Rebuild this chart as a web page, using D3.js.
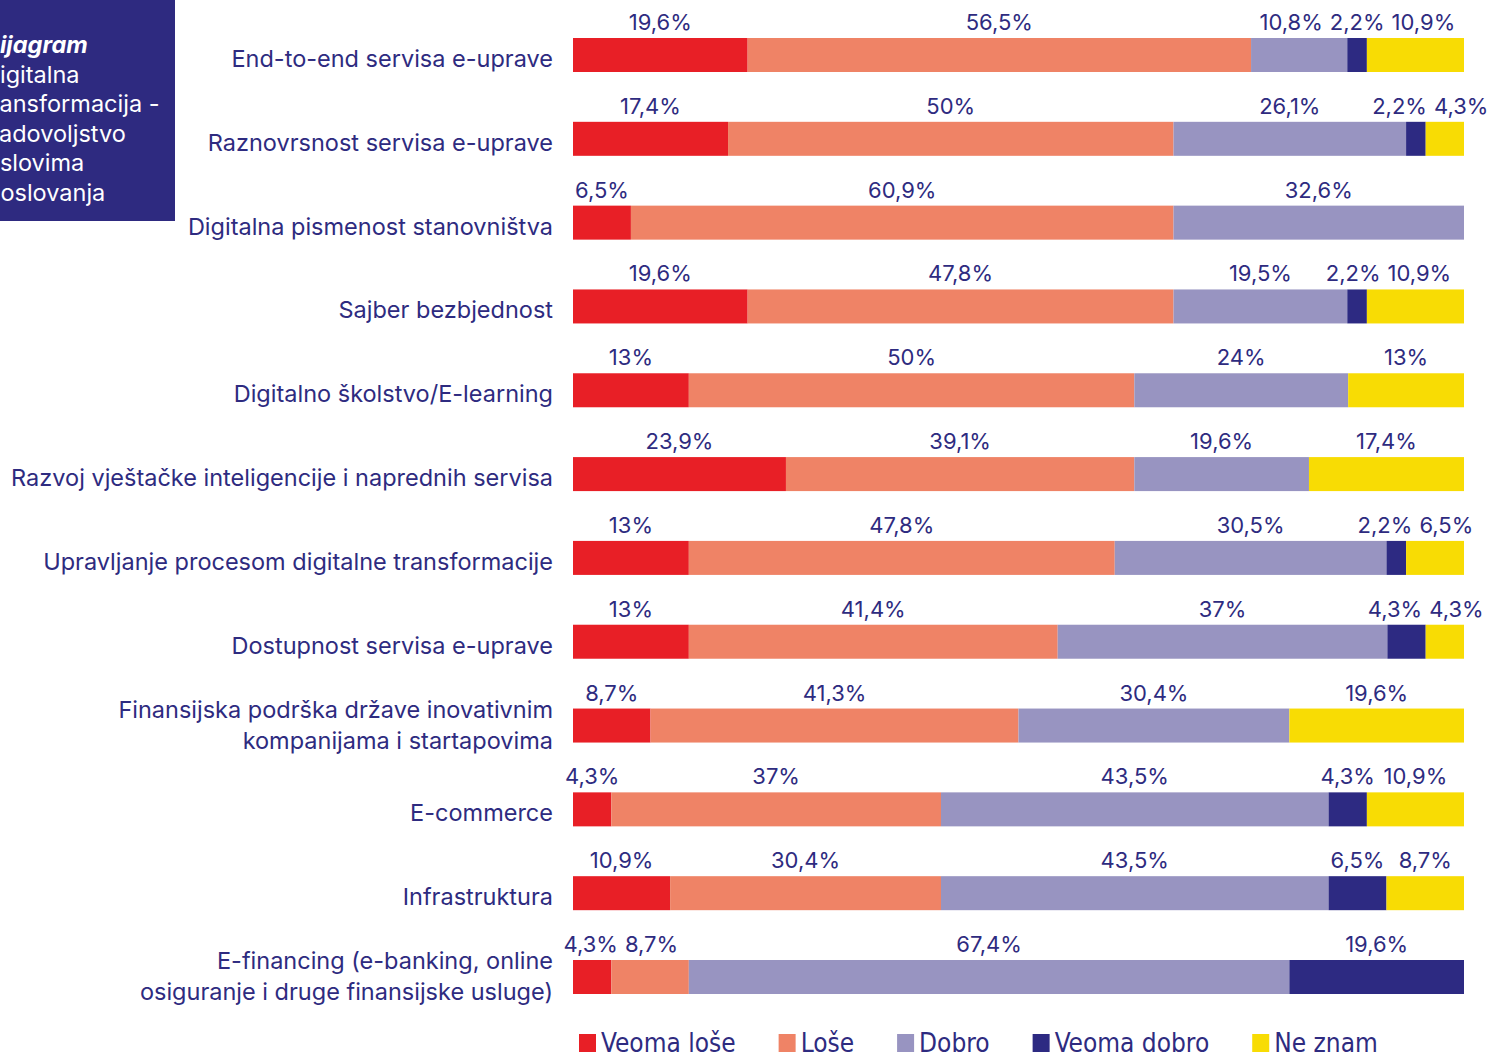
<!DOCTYPE html>
<html>
<head>
<meta charset="utf-8">
<script src="https://cdn.jsdelivr.net/npm/d3@7"></script>
<style>
	body { margin: 0; background: #fff; }
	svg { display: block; }
	.catLabel { font-family: Inter, 'Open Sans', sans-serif; font-size: 23.5px; fill: #2e2b80; }
	.dataLabels { font-family: Inter, 'Open Sans', sans-serif; font-size: 22px; fill: #2e2b80; }
	.legendLabel { font-family: 'Liberation Sans Narrow', 'DejaVu Sans Condensed', sans-serif; font-size: 26px; fill: #2e2b80; }
	.titleText { font-family: Inter, 'Open Sans', sans-serif; font-size: 23.5px; fill: #fff; }
</style>
</head>
<body>
<div id="graphic"></div>
<script>
// categories (top to bottom), "|" splits a label over two lines
const categories = [
	'End-to-end servisa e-uprave',
	'Raznovrsnost servisa e-uprave',
	'Digitalna pismenost stanovništva',
	'Sajber bezbjednost',
	'Digitalno školstvo/E-learning',
	'Razvoj vještačke inteligencije i naprednih servisa',
	'Upravljanje procesom digitalne transformacije',
	'Dostupnost servisa e-uprave',
	'Finansijska podrška države inovativnim|kompanijama i startapovima',
	'E-commerce',
	'Infrastruktura',
	'E-financing (e-banking, online|osiguranje i druge finansijske usluge)'
];

const seriesNames = ['Veoma loše', 'Loše', 'Dobro', 'Veoma dobro', 'Ne znam'];

// values in %
const veomaLose  = [19.6, 17.4, 6.5, 19.6, 13, 23.9, 13, 13, 8.7, 4.3, 10.9, 4.3];
const lose       = [56.5, 50, 60.9, 47.8, 50, 39.1, 47.8, 41.4, 41.3, 37, 30.4, 8.7];
const dobro      = [10.8, 26.1, 32.6, 19.5, 24, 19.6, 30.5, 37, 30.4, 43.5, 43.5, 67.4];
const veomaDobro = [2.2, 2.2, 0, 2.2, 0, 0, 2.2, 4.3, 0, 4.3, 6.5, 19.6];
const neZnam     = [10.9, 4.3, 0, 10.9, 13, 17.4, 6.5, 4.3, 19.6, 10.9, 8.7, 0];

// title box text (cut off at the left edge, as in the original)
const titleLines = ['Dijagram', 'Digitalna', 'transformacija -', 'zadovoljstvo', 'uslovima', 'poslovanja'];

const colourPalette = ['#e81f26', '#ef8366', '#9894c1', '#2d2a82', '#f8dc04'];

const width = 1497, height = 1054;

let graphicData = categories.map((c, i) => ({
	name: c,
	'Veoma loše': veomaLose[i],
	'Loše': lose[i],
	'Dobro': dobro[i],
	'Veoma dobro': veomaDobro[i],
	'Ne znam': neZnam[i]
}));

function drawGraphic() {
	const svg = d3.select('#graphic').append('svg')
		.attr('width', width)
		.attr('height', height);

	const x = d3.scaleLinear().domain([0, 100]).range([573, 1464]);
	const y = d3.scalePoint().domain(categories).range([55, 977]);
	const barHeight = 34;

	const colour = d3.scaleOrdinal().domain(seriesNames).range(colourPalette);

	const stacked = d3.stack().keys(seriesNames)(graphicData);

	// title box
	svg.append('rect')
		.attr('x', 0).attr('y', 0)
		.attr('width', 175).attr('height', 221)
		.attr('fill', '#2e2a80');

	svg.selectAll('text.titleText')
		.data(titleLines)
		.join('text')
		.attr('class', 'titleText')
		.attr('x', (d, i) => i < 2 ? -17 : i == 2 ? -17 : -14)
		.attr('y', (d, i) => 53 + i * 29.5)
		.style('font-weight', (d, i) => i == 0 ? 700 : 400)
		.style('font-style', (d, i) => i == 0 ? 'italic' : 'normal')
		.text(d => d);

	// bars
	svg.selectAll('g.series')
		.data(stacked)
		.join('g')
		.attr('class', 'series')
		.attr('fill', d => colour(d.key))
		.selectAll('rect')
		.data(d => d)
		.join('rect')
		.attr('x', d => x(d[0]))
		.attr('width', d => x(d[1]) - x(d[0]))
		.attr('y', d => y(d.data.name) - barHeight / 2)
		.attr('height', barHeight);

	// category labels
	svg.selectAll('text.catLabel')
		.data(categories)
		.join('text')
		.attr('class', 'catLabel')
		.attr('text-anchor', 'end')
		.attr('x', 553)
		.attr('y', d => y(d))
		.each(function (d) {
			let lines = d.split('|');
			d3.select(this).selectAll('tspan')
				.data(lines)
				.join('tspan')
				.attr('x', 553)
				.attr('dy', (l, i) => i == 0 ? (lines.length > 1 ? -8 : 12) : 31)
				.text(l => l);
		});

	// data labels, centred over segment then pushed apart where they collide
	graphicData.forEach(function (row) {
		let items = [];
		stacked.forEach(function (s) {
			let seg = s.find(e => e.data.name == row.name);
			if (seg[1] - seg[0] > 0) {
				items.push({ value: row[s.key], cx: (x(seg[0]) + x(seg[1])) / 2 });
			}
		});

		let labels = svg.append('g').selectAll('text')
			.data(items)
			.join('text')
			.attr('class', 'dataLabels')
			.attr('text-anchor', 'middle')
			.attr('y', y(row.name) - 25)
			.text(d => String(d.value).replace('.', ',') + '%');

		labels.each(function (d) { d.w = this.getComputedTextLength(); d.pos = d.cx; });

		let gap = 7;
		for (let it = 0; it < 50; it++) {
			for (let i = 1; i < items.length; i++) {
				let a = items[i - 1], b = items[i];
				let overlap = (a.pos + a.w / 2 + gap) - (b.pos - b.w / 2);
				if (overlap > 0) {
					a.pos -= overlap / 2;
					b.pos += overlap / 2;
				}
			}
		}
		labels.attr('x', d => d.pos);
	});

	// legend
	let lx = 579;
	seriesNames.forEach(function (s) {
		svg.append('rect')
			.attr('x', lx).attr('y', 1034)
			.attr('width', 17).attr('height', 18)
			.attr('fill', colour(s));
		let t = svg.append('text')
			.attr('class', 'legendLabel')
			.attr('x', lx + 22)
			.attr('y', 1052)
			.text(s);
		lx += 22 + t.node().getComputedTextLength() + 43;
	});
}

drawGraphic();
</script>
</body>
</html>
